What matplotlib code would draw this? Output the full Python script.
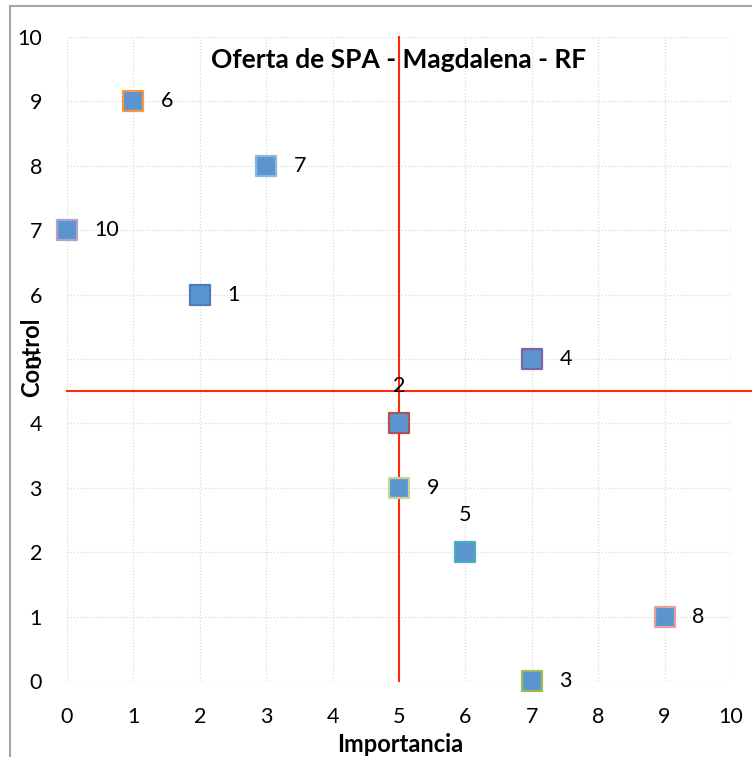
import matplotlib
matplotlib.use("Agg")
import matplotlib.pyplot as plt
from matplotlib.lines import Line2D

plt.rcParams['font.family'] = ['Lato', 'DejaVu Sans']

labels = ["1", "2", "3", "4", "5", "6", "7", "8", "9", "10"]
importancia = [2, 5, 7, 7, 6, 1, 3, 9, 5, 0]
control = [6, 4, 0, 5, 2, 9, 8, 1, 3, 7]
edge_colors = ["#4a7ebb", "#b05050", "#9bbb59", "#8064a2", "#4bacc6",
               "#f79646", "#8eb4e3", "#e6a0a0", "#c3d69b", "#b3a2c7"]
label_above = ["2", "5"]
x_cut = 5
y_cut = 4.5

W, H = 752, 757
fig = plt.figure(figsize=(W/100, H/100), dpi=100)
ax = fig.add_axes([67/W, 1 - 681/H, (731-67)/W, (681-37)/H])
ax.set_xlim(0, 10)
ax.set_ylim(0, 10)
ax.set_xticks(range(0, 11))
ax.set_yticks(range(0, 11))
ax.grid(True, color="#d9d9d9", linestyle=(0, (1, 1.5)), linewidth=0.9)
for s in ax.spines.values():
    s.set_visible(False)
ax.tick_params(axis="x", length=0, labelsize=15.5, pad=19)
ax.tick_params(axis="y", length=0, labelsize=15.5, pad=18)
for t in ax.get_yticklabels():
    t.set_va("center_baseline")
ax.set_axisbelow(True)

ax.plot([x_cut, x_cut], [0, 10], color="#ff2a0a", lw=1.5, zorder=2, clip_on=False)
ax.plot([0, 10.35], [y_cut, y_cut], color="#ff2a0a", lw=1.5, zorder=2, clip_on=False)

for lab, xv, yv, ec in zip(labels, importancia, control, edge_colors):
    ax.scatter([xv], [yv], marker="s", s=190, facecolor="#5b95cf", edgecolor=ec,
               linewidth=1.6, zorder=3, clip_on=False)
    if lab in label_above:
        ax.annotate(lab, (xv, yv), xytext=(0, 27), textcoords="offset points",
                    ha="center", va="center", fontsize=15.5, zorder=4)
    else:
        ax.annotate(lab, (xv, yv), xytext=(20, 0), textcoords="offset points",
                    ha="left", va="center", fontsize=15.5, zorder=4)

fig.text(400/W, 1 - 745/H, "Importancia", fontsize=17, fontweight="bold",
         ha="center", va="center")
fig.text(32/W, 1 - 357/H, "Control", fontsize=17, fontweight="bold",
         ha="center", va="center", rotation=90)
ax.text(0.5, (681-60)/(681-37), "Oferta de SPA - Magdalena - RF", transform=ax.transAxes,
        fontsize=19, fontweight="bold", ha="center", va="center", zorder=1)

fig.add_artist(Line2D([10/W, 1], [1 - 6/H, 1 - 6/H], color="#a6a6a6", lw=1.5))
fig.add_artist(Line2D([10/W, 10/W], [0, 1 - 6/H], color="#a6a6a6", lw=1.5))

fig.savefig("out.png", dpi=100)
